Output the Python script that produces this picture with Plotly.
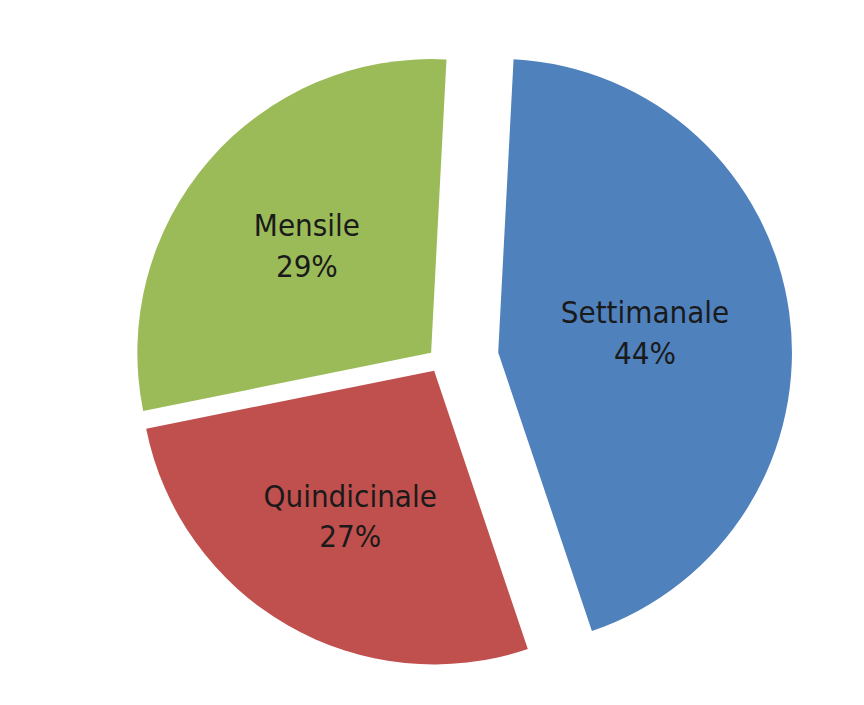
import plotly.graph_objects as go

labels = ["Settimanale", "Quindicinale", "Mensile"]
values = [44, 27, 29]
colors = ["#4F81BD", "#C0504D", "#9BBB59"]
pulls = [0.2, 0.04, 0.04]

fig = go.Figure(go.Pie(
    labels=labels,
    values=values,
    sort=False,
    direction="clockwise",
    rotation=3,
    pull=pulls,
    marker=dict(colors=colors, line=dict(width=0)),
    texttemplate="%{label}<br>%{percent:.0%}",
    textposition="inside",
    insidetextorientation="horizontal",
    textfont=dict(family="DejaVu Sans Condensed", size=31, color="#1a1a1a"),
    showlegend=False,
    hoverinfo="label+percent",
    domain=dict(x=[0, 1], y=[0, 1]),
))

fig.update_layout(
    width=864, height=705,
    margin=dict(l=0, r=0, t=0, b=0),
    paper_bgcolor="white",
    plot_bgcolor="white",
)

fig.write_html("out.html")
